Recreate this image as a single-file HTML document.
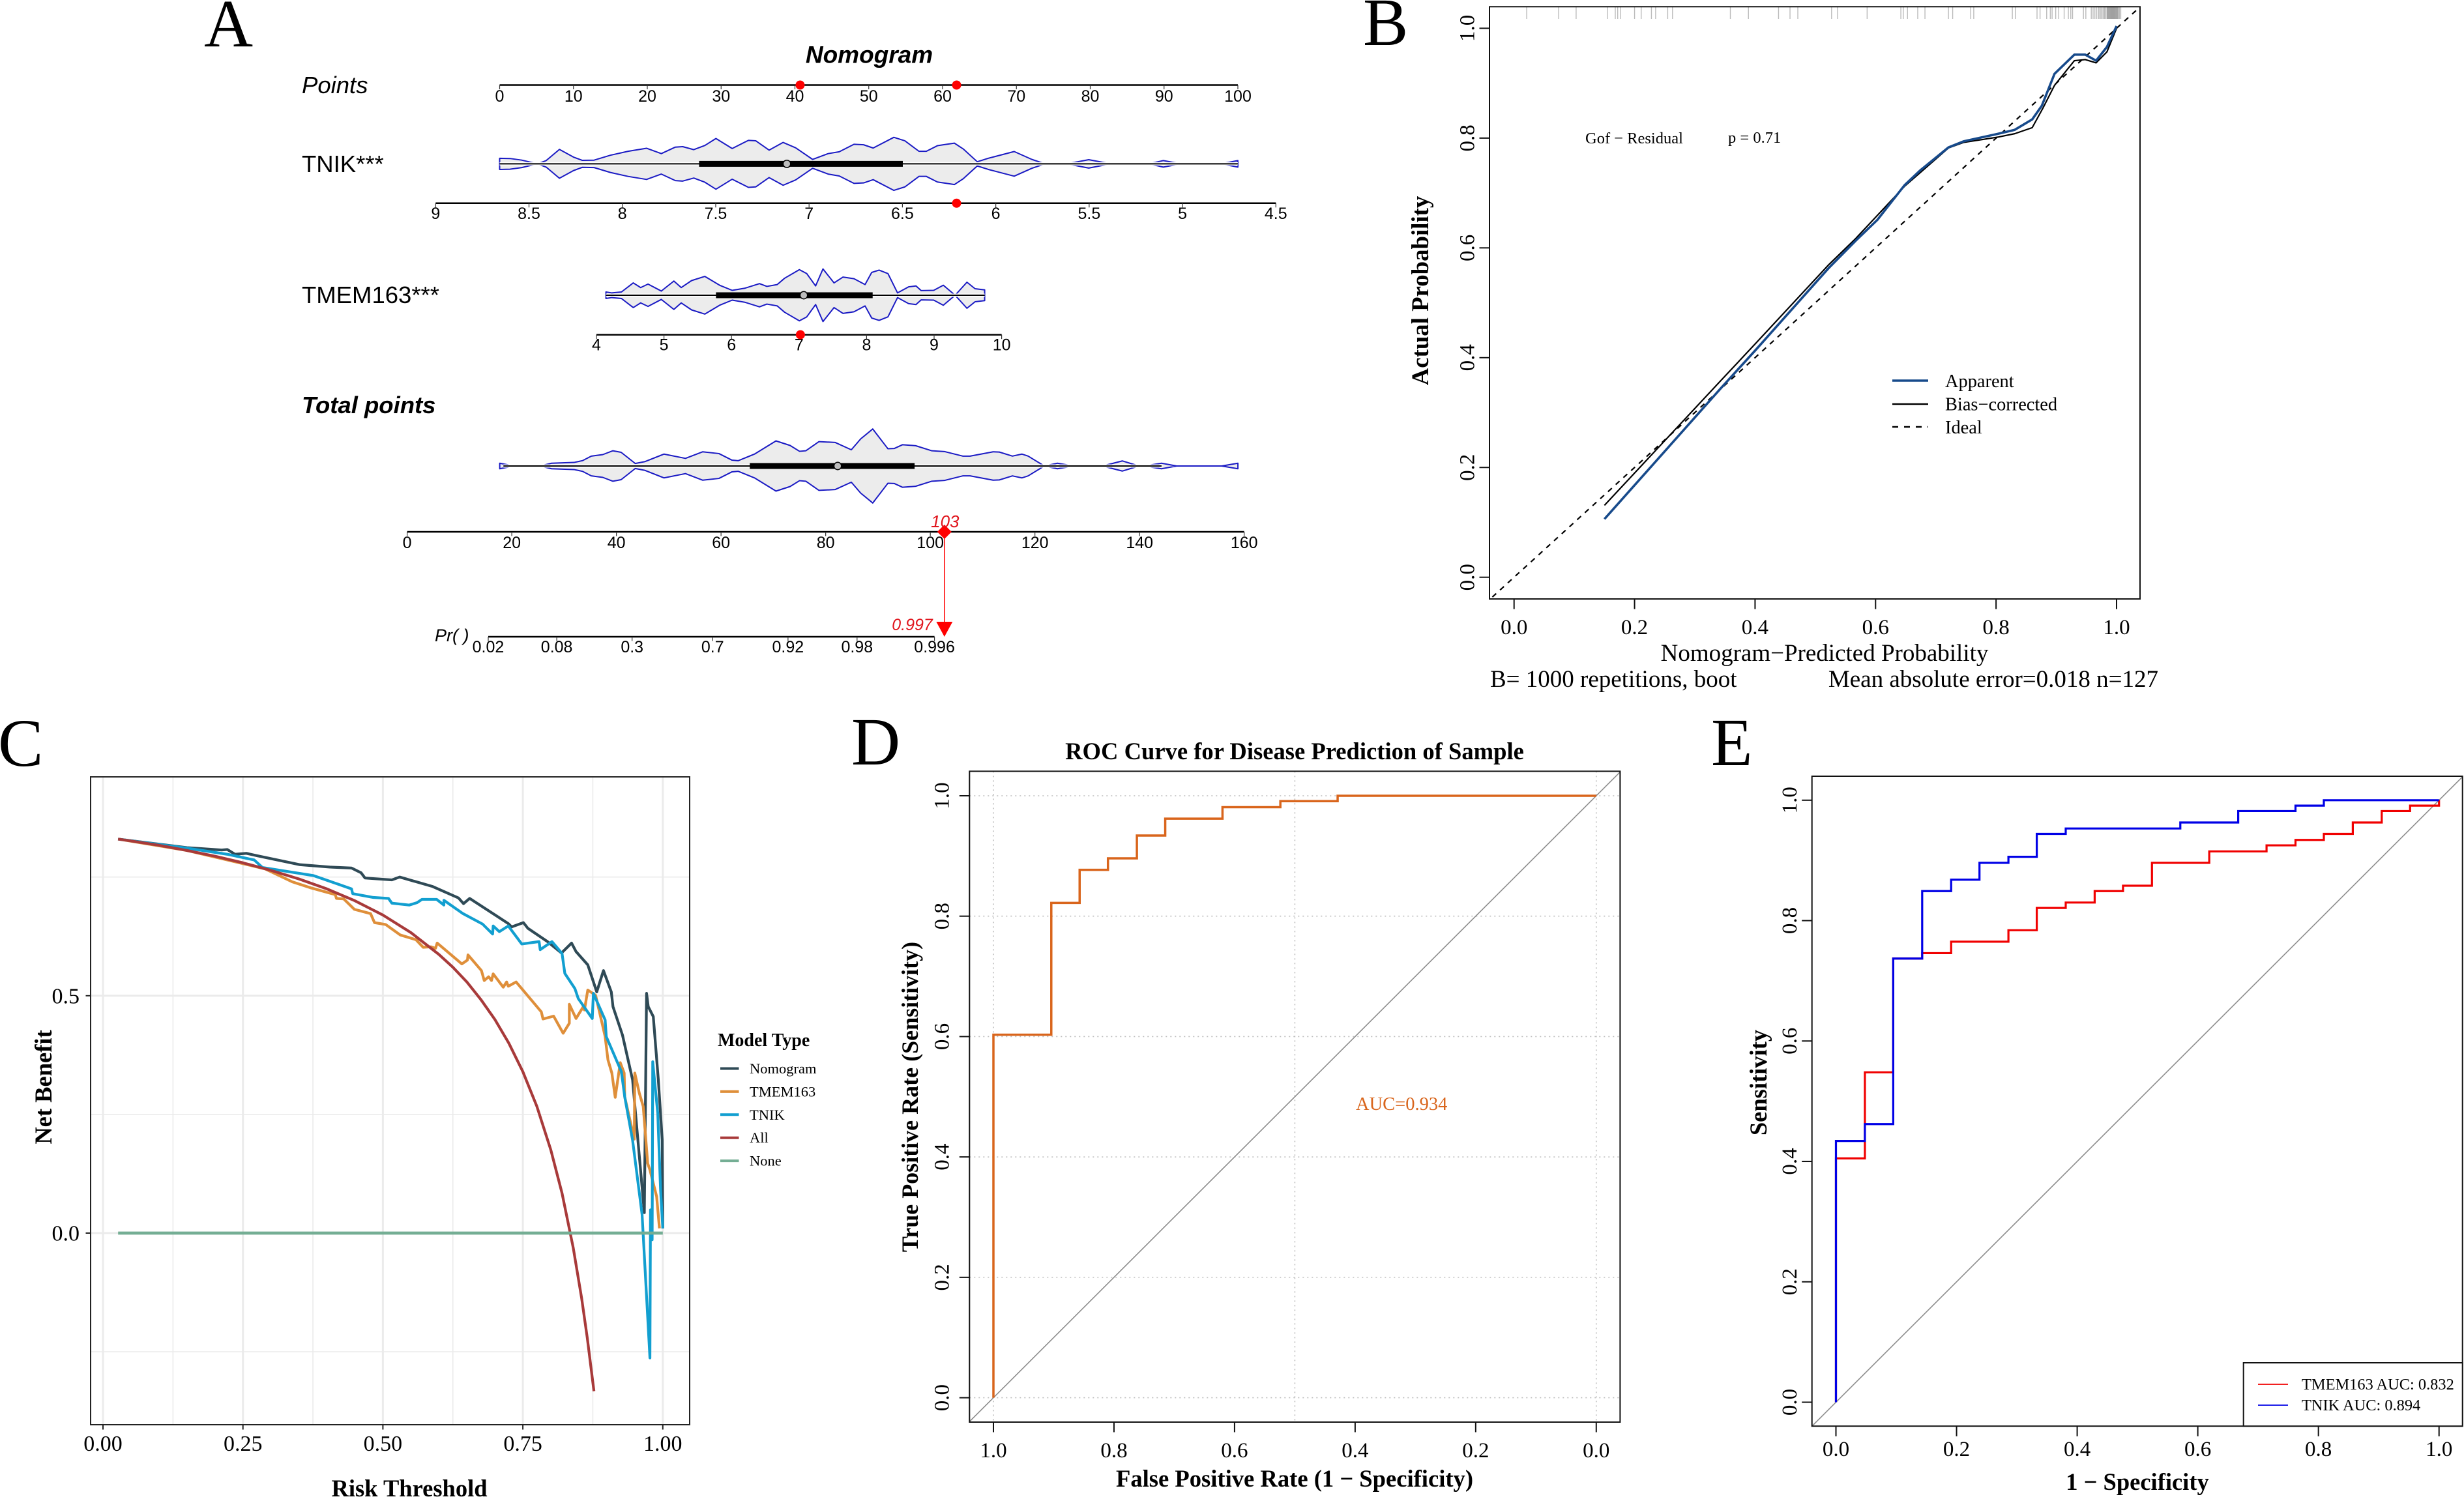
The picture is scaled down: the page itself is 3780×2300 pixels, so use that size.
<!DOCTYPE html>
<html lang="en">
<head>
<meta charset="utf-8">
<title>Nomogram, calibration, DCA and ROC panels</title>
<style>
html,body{margin:0;padding:0;background:#fff;}
svg{display:block;}
text{fill:#000;}
.sans{font-family:"Liberation Sans",Arial,sans-serif;}
.serif{font-family:"Liberation Serif","Times New Roman",serif;}
.bold{font-weight:bold;}
.ital{font-style:italic;}
</style>
</head>
<body>
<svg id="figure" xmlns="http://www.w3.org/2000/svg" width="3780" height="2300" viewBox="0 0 3780 2300">
<defs>
<clipPath id="clip-b"><rect x="2285" y="10.3" width="998" height="908.7"/></clipPath>
<clipPath id="clip-c"><rect x="139" y="1192" width="919" height="994"/></clipPath>
<clipPath id="clip-d"><rect x="1487.3" y="1183.4" width="998.1" height="998.6"/></clipPath>
<clipPath id="clip-e"><rect x="2779.7" y="1191" width="998" height="997.2"/></clipPath>
</defs>
<rect x="0" y="0" width="3780" height="2300" fill="#fff"/>

<g class="serif" font-size="104">
<text x="313" y="71">A</text>
<text x="2091" y="69">B</text>
<text x="-3" y="1175">C</text>
<text x="1306" y="1173">D</text>
<text x="2625" y="1174">E</text>
</g>

<g id="panel-a" class="sans">
<text class="bold ital" x="1333.5" y="96.5" font-size="37" text-anchor="middle">Nomogram</text>
<text class="ital" x="463" y="143" font-size="36.5">Points</text>
<text x="463" y="264" font-size="36.5">TNIK***</text>
<text x="463" y="465" font-size="36.5">TMEM163***</text>
<text class="bold ital" x="463" y="634" font-size="36.5">Total points</text>
<text class="ital" x="667" y="984" font-size="27">Pr( )</text>
</g>

<g id="panel-b" class="serif">
<text x="2799" y="1014" font-size="37" text-anchor="middle">Nomogram−Predicted Probability</text>
<text x="2286" y="1054" font-size="37">B= 1000 repetitions, boot</text>
<text x="3311" y="1054" font-size="37" text-anchor="end">Mean absolute error=0.018 n=127</text>
<text class="bold" transform="translate(2191 446) rotate(-90)" font-size="36.8" text-anchor="middle">Actual Probability</text>
<text x="2432" y="220" font-size="24.5">Gof − Residual</text>
<text x="2651" y="219" font-size="24.5">p = 0.71</text>
<line x1="2903" x2="2958" y1="584" y2="584" stroke="#174a8b" stroke-width="3.5"/>
<line x1="2903" x2="2958" y1="620" y2="620" stroke="#000" stroke-width="2.5"/>
<line x1="2903" x2="2958" y1="655" y2="655" stroke="#000" stroke-width="2.5" stroke-dasharray="9 9"/>
<text x="2984" y="594" font-size="28.4">Apparent</text>
<text x="2984" y="629.5" font-size="28.4">Bias−corrected</text>
<text x="2984" y="665" font-size="28.4">Ideal</text>
</g>

<g id="panel-c" class="serif">
<text class="bold" x="628" y="2296" font-size="36.5" text-anchor="middle">Risk Threshold</text>
<text class="bold" transform="translate(79 1668) rotate(-90)" font-size="36.5" text-anchor="middle">Net Benefit</text>
<text class="bold" x="1101" y="1605" font-size="28">Model Type</text>
</g>

<g id="panel-d" class="serif">
<text class="bold" x="1986" y="1165" font-size="36.6" text-anchor="middle">ROC Curve for Disease Prediction of Sample</text>
<text class="bold" x="1986" y="2281" font-size="36.6" text-anchor="middle">False Positive Rate (1 − Specificity)</text>
<text class="bold" transform="translate(1408 1683) rotate(-90)" font-size="36" text-anchor="middle">True Positive Rate (Sensitivity)</text>
<text x="2080" y="1703" font-size="28.5" style="fill:#d9651c">AUC=0.934</text>
</g>

<g id="panel-e" class="serif">
<text class="bold" x="3279" y="2286" font-size="36.5" text-anchor="middle">1 − Specificity</text>
<text class="bold" transform="translate(2710 1661) rotate(-90)" font-size="36.5" text-anchor="middle">Sensitivity</text>
</g>

<script>
// ---------- Panel A: nomogram data ----------
const pointsTicks = [0,10,20,30,40,50,60,70,80,90,100];
const tnikTicks = [9,8.5,8,7.5,7,6.5,6,5.5,5,4.5];
const tmemTicks = [4,5,6,7,8,9,10];
const totalTicks = [0,20,40,60,80,100,120,140,160];
const prTickLabels = ['0.02','0.08','0.3','0.7','0.92','0.98','0.996'];
const prTickTotals = [15.5,28.6,43,58.4,72.8,86,100.8];
const pointsMarkers = [40.7,61.9];
const tnikMarker = 6.21;
const tmemMarker = 7.02;
const totalMarker = 102.7;
const totalMarkerLabel = '103';
const prMarkerLabel = '0.997';

const tnikViolinPts = [0,1.4,3,5.1,6.3,8.1,10,11.2,12.8,15,17.4,19.9,21.9,23.8,24.8,26.3,27.8,29.3,31.5,33.7,34.7,36.5,38.4,40.1,42.4,44.5,46,48,49.3,50.6,53.4,54.9,56.8,57.8,59.3,61.6,62.8,64.7,66.2,69.7,72.1,73.9,76.8,79.8,82.8,87.9,89.9,92.3,97.7,100];
const tnikDensity = [.24,.23,.16,0,.14,.62,.29,.15,.16,.37,.54,.67,.44,.72,.74,.61,.79,1.09,.66,1.01,.99,.59,.92,.69,.19,.44,.52,.84,.82,.68,1.14,.99,.54,.54,.78,.89,.64,.09,.24,.53,.19,0,0,.18,0,0,.14,0,0,.14];
const tnikBox = [7.589,6.498];
const tnikMedian = 7.119;

const tmemViolinPts = [14.4,15.2,16.5,18.1,19.1,20.1,21.9,23.6,24.6,26,27.8,29.8,31.5,33.2,35.2,36.2,37.6,38.6,40.6,41.6,42.8,43.8,45.3,46.5,48,49.5,50.4,51.4,52.6,53.9,55.4,56.4,57.1,58.8,60.1,61.7,63.3,64.4,65.7];
const tmemDensity = [.14,.10,.14,.53,.33,.48,.18,.61,.33,.63,.81,.43,.21,.30,.50,.38,.46,.73,1.10,.93,.40,1.13,.53,.78,.71,.46,.98,1.08,.93,.10,.36,.40,.20,.21,.43,0,.56,.28,.23];
const tmemBox = [5.77,8.09];
const tmemMedian = 7.07;

const totalViolinPts = [17.7,20.4,25.4,27.6,31.9,33.5,35.2,37.4,39.3,40.9,43.6,45.4,49.1,53.2,56.5,59.6,62.1,63.3,66.4,70.5,73.2,75,76.2,78.7,81.8,84.9,86.7,89,91.9,93.1,94.7,97.2,100.3,102.7,106.2,107.6,112,113.2,115.7,117.5,118.7,121.8,124.3,127.4,132.9,136.7,139.9,140.9,144.2,147.1,155.7,158.8];
const totalDensity = [.11,0,0,.11,.14,.21,.39,.45,.60,.54,.10,.17,.47,.30,.56,.49,.23,.21,.47,.99,.81,.58,.60,.96,.93,.64,1.07,1.46,.68,.69,.84,.80,.60,.57,.39,.39,.56,.55,.39,.47,.39,0,.11,0,0,.20,0,0,.11,0,0,.11];
const totalBox = [65.5,97];
const totalMedian = 82.3;
const totalWhisker = [18.4,144.2];

// ---------- Panel B: calibration data ----------
const calTicks = [0,.2,.4,.6,.8,1];
const apparentX = [.15,.343,.401,.522,.567,.603,.648,.674,.721,.746,.804,.831,.86,.876,.897,.93,.948,.966,.984,1];
const apparentY = [.106,.344,.414,.563,.613,.651,.714,.741,.783,.794,.808,.815,.834,.859,.917,.952,.952,.941,.966,1.004];
const biasX = [.15,.343,.401,.522,.567,.648,.721,.746,.804,.831,.86,.878,.897,.93,.948,.966,.984,1];
const biasY = [.131,.358,.426,.569,.617,.712,.782,.792,.802,.808,.819,.855,.896,.941,.943,.937,.957,1];
const idealLine = [-.1,1.1];
const rugValues = [.021,.074,.103,.155,.168,.172,.177,.2,.211,.228,.235,.255,.263,.359,.389,.439,.458,.471,.527,.537,.586,.642,.646,.653,.67,.682,.721,.728,.758,.763,.827,.832,.868,.873,.884,.89,.893,.899,.904,.913,.92,.924,.927,.945,.949,.958,.961,.964,.967,.97,.972,.974,.976,.978,.98,.982,.984,.985,.986,.987,.988,.989,.99,.991,.992,.993,.994,.995,.996,.997,.998,.999,1,1.001,1.002,1.003,1.005,1.007];

// ---------- Panel C: decision curve data ----------
const dcaXTicks = [0,.25,.5,.75,1];
const dcaXMinor = [.125,.375,.625,.875];
const dcaYTicks = [0,.5];
const dcaYMinor = [-.25,.25,.75];
const dcaNames = ['Nomogram','TMEM163','TNIK','All','None'];
const nomogramX = [.027,.15,.212,.222,.236,.256,.275,.352,.405,.444,.461,.468,.516,.530,.589,.635,.644,.655,.724,.730,.751,.759,.794,.819,.837,.845,.866,.882,.894,.908,.911,.928,.946,.967,.971,.974,.983,.992,.999,1];
const nomogramY = [.83,.812,.807,.808,.798,.80,.795,.776,.771,.769,.759,.748,.744,.75,.73,.706,.694,.705,.652,.645,.654,.642,.614,.59,.611,.593,.565,.508,.553,.508,.477,.417,.323,.043,.505,.477,.456,.323,.196,.01];
const tmemX = [.027,.15,.222,.29,.338,.372,.415,.417,.43,.449,.478,.485,.505,.531,.559,.572,.586,.594,.597,.641,.651,.652,.676,.681,.689,.694,.697,.715,.721,.724,.738,.783,.786,.805,.822,.833,.833,.845,.858,.86,.866,.88,.897,.902,.909,.915,.924,.931,.932,.949,.95,.958,.965,.973,.977,.989,.994];
const tmemY = [.83,.806,.786,.767,.74,.727,.713,.705,.704,.682,.673,.654,.65,.628,.618,.602,.603,.60,.611,.567,.575,.586,.553,.532,.54,.532,.546,.518,.529,.52,.529,.466,.451,.457,.421,.442,.482,.452,.477,.47,.512,.501,.414,.365,.337,.286,.359,.337,.287,.198,.337,.295,.267,.147,.133,.077,.01];
const tnikX = [.027,.15,.222,.27,.285,.328,.376,.42,.444,.446,.483,.51,.516,.547,.561,.57,.596,.609,.609,.643,.678,.696,.697,.708,.724,.748,.779,.781,.802,.82,.825,.843,.849,.874,.876,.897,.899,.926,.932,.946,.963,.977,.978,.981,.982,.991,.996,1];
const tnikY = [.83,.811,.798,.786,.77,.762,.753,.735,.725,.715,.707,.705,.695,.691,.696,.703,.703,.691,.701,.673,.651,.63,.647,.635,.647,.609,.614,.597,.614,.589,.547,.515,.494,.452,.505,.449,.414,.34,.287,.196,.039,-.263,.049,-.014,.361,.252,.091,.01];
const allX = [.027,.05,.1,.15,.2,.25,.3,.35,.4,.45,.5,.55,.6,.625,.65,.675,.7,.725,.75,.775,.8,.82,.84,.855,.865,.877];
const allY = [.83,.826,.817,.806,.794,.78,.764,.746,.725,.70,.67,.633,.587,.56,.529,.492,.45,.40,.34,.267,.175,.084,-.031,-.137,-.22,-.333];
const noneX = [.027,1];
const noneY = [0,0];

// ---------- Panel D / E: ROC data ----------
const rocTicks = [0,.2,.4,.6,.8,1];
const sampleGridX = [1,.5,0];
const sampleX = [1,.904,.857,.81,.762,.715,.62,.524,.429,0];
const sampleY = [.603,.822,.877,.896,.934,.962,.981,.991,1,1];
const tmemRocX = [0,.048,.095,.143,.191,.286,.333,.381,.429,.476,.524,.619,.714,.762,.809,.857,.905,.952,1];
const tmemRocY = [.405,.548,.737,.746,.765,.784,.821,.83,.849,.858,.896,.915,.925,.934,.944,.963,.982,.991,1];
const tnikRocX = [0,.048,.095,.143,.191,.238,.286,.333,.381,.571,.667,.762,.809,1];
const tnikRocY = [.434,.462,.737,.849,.868,.896,.906,.944,.953,.963,.982,.991,1,1];
const rocLegendLabels = ['TMEM163 AUC: 0.832','TNIK AUC: 0.894'];

// ---------- Helpers ----------
const SVGNS = 'http://www.w3.org/2000/svg';
function mk(parent, tag, attrs, text) {
  const el = document.createElementNS(SVGNS, tag);
  for (const k in attrs) el.setAttribute(k, attrs[k]);
  if (text !== undefined) el.textContent = text;
  parent.appendChild(el);
  return el;
}
function linear(d0, d1, r0, r1) {
  return function (v) { return r0 + (v - d0) / (d1 - d0) * (r1 - r0); };
}
function polyPoints(xs, ys, sx, sy) {
  return xs.map(function (x, i) { return sx(x).toFixed(2) + ',' + sy(ys[i]).toFixed(2); }).join(' ');
}
function stepPath(xs, ys, sx, sy) {
  let d = 'M' + sx(xs[0]).toFixed(2) + ' ' + sy(0).toFixed(2);
  for (let i = 0; i < xs.length; i++) {
    d += ' V' + sy(ys[i]).toFixed(2);
    if (i + 1 < xs.length) d += ' H' + sx(xs[i + 1]).toFixed(2);
  }
  return d;
}
const byId = function (id) { return document.getElementById(id); };

// ---------- Panel A ----------
const pA = byId('panel-a');
const sPoints = linear(0, 100, 766.5, 1899);
const sTnik = linear(9, 4.5, 668.3, 1957.3);
const sTmem = linear(4, 10, 915, 1536.6);
const sTotal = linear(0, 160, 624.6, 1908.7);

function nomoAxis(ticks, labels, scale, y, labelY) {
  const axis = mk(pA, 'line', {x1: scale(ticks[0]), x2: scale(ticks[ticks.length - 1]), y1: y, y2: y, stroke: '#000', 'stroke-width': 2.5});
  
  
  ticks.forEach(function (t, i) {
    const tick = mk(pA, 'line', {x1: scale(t), x2: scale(t), y1: y, y2: y + 6.5, stroke: '#333', 'stroke-width': 1.2});
    
    
    const lab = mk(pA, 'text', {x: scale(t), y: labelY, 'font-size': 25, 'text-anchor': 'middle'}, labels[i]);
    
    
  });
}
function violin(xs, dens, scale, cy, unit, lineFrom, lineTo, boxFrom, boxTo, med) {
  const up = xs.map(function (x, i) { return scale(x).toFixed(2) + ',' + (cy - dens[i] * unit).toFixed(2); });
  const down = xs.map(function (x, i) { return scale(x).toFixed(2) + ',' + (cy + dens[i] * unit).toFixed(2); }).reverse();
  const shape = mk(pA, 'polygon', {points: up.concat(down).join(' '), fill: '#ececec', stroke: '#1a1ac4', 'stroke-width': 2, 'stroke-linejoin': 'round'});
  
  
  const halo = mk(pA, 'line', {x1: lineFrom, x2: lineTo, y1: cy, y2: cy, stroke: '#fff', 'stroke-width': 5});
  
  
  const whisker = mk(pA, 'line', {x1: lineFrom, x2: lineTo, y1: cy, y2: cy, stroke: '#000', 'stroke-width': 2});
  
  
  const box = mk(pA, 'rect', {x: Math.min(boxFrom, boxTo), y: cy - 4.5, width: Math.abs(boxTo - boxFrom), height: 9, fill: '#000'});
  
  
  const medDot = mk(pA, 'circle', {cx: med, cy: cy, r: 5.7, fill: '#bdbdbd', stroke: '#000', 'stroke-width': 1.5});
  
  
}
function redDot(x, y) {
  const dot = mk(pA, 'circle', {cx: x, cy: y, r: 7, fill: '#f00'});
  
  
}

nomoAxis(pointsTicks, pointsTicks.map(String), sPoints, 130.5, 156);
nomoAxis(tnikTicks, tnikTicks.map(String), sTnik, 311.8, 336);
nomoAxis(tmemTicks, tmemTicks.map(String), sTmem, 513.6, 537.5);
nomoAxis(totalTicks, totalTicks.map(String), sTotal, 816, 841);
nomoAxis(prTickTotals, prTickLabels, sTotal, 977, 1001);

violin(tnikViolinPts, tnikDensity, sPoints, 251.4, 35.7, sPoints(0), sPoints(100), sTnik(tnikBox[0]), sTnik(tnikBox[1]), sTnik(tnikMedian));
violin(tmemViolinPts, tmemDensity, sPoints, 453, 35.7, sPoints(14.4), sPoints(65.7), sTmem(tmemBox[0]), sTmem(tmemBox[1]), sTmem(tmemMedian));
violin(totalViolinPts, totalDensity, sTotal, 715, 38.9, sTotal(totalWhisker[0]), sTotal(totalWhisker[1]), sTotal(totalBox[0]), sTotal(totalBox[1]), sTotal(totalMedian));

pointsMarkers.forEach(function (p) { redDot(sPoints(p), 130.5); });
redDot(sTnik(tnikMarker), 311.8);
redDot(sTmem(tmemMarker), 513.6);

const mx = sTotal(totalMarker);
const drop = mk(pA, 'line', {x1: mx, x2: mx, y1: 816, y2: 962, stroke: '#f00', 'stroke-width': 1.5});


const diamond = mk(pA, 'polygon', {points: [mx, 805, mx + 11, 816, mx, 827, mx - 11, 816].join(' '), fill: '#f00'});


const arrow = mk(pA, 'polygon', {points: [mx - 12.5, 954, mx + 12.5, 954, mx, 977].join(' '), fill: '#f00'});


const tm = mk(pA, 'text', {x: mx + 1, y: 809, 'font-size': 26, 'text-anchor': 'middle', 'font-style': 'italic', style: 'fill:#e0141c'}, totalMarkerLabel);


const pm = mk(pA, 'text', {x: mx - 18, y: 967, 'font-size': 25, 'text-anchor': 'end', 'font-style': 'italic', style: 'fill:#e0141c'}, prMarkerLabel);



// ---------- Shared base-R style axes ----------
function baseAxes(parent, frame, sx, sy, xTicks, yTicks, xBase, yBase, fs) {
  xTicks.forEach(function (t) {
    const tick = mk(parent, 'line', {x1: sx(t), x2: sx(t), y1: frame.b, y2: frame.b + 15.5, stroke: '#111', 'stroke-width': 2});
    
    
    const lab = mk(parent, 'text', {x: sx(t), y: xBase, 'font-size': fs, 'text-anchor': 'middle'}, t.toFixed(1));
    
    
  });
  yTicks.forEach(function (t) {
    const tick = mk(parent, 'line', {x1: frame.l - 15.5, x2: frame.l, y1: sy(t), y2: sy(t), stroke: '#111', 'stroke-width': 2});
    
    
    const lab = mk(parent, 'text', {transform: 'translate(' + yBase + ' ' + sy(t) + ') rotate(-90)', 'font-size': fs, 'text-anchor': 'middle'}, t.toFixed(1));
    
    
  });
}
function frameRect(parent, f, stroke) {
  const r = mk(parent, 'rect', {x: f.l, y: f.t, width: f.r - f.l, height: f.b - f.t, fill: 'none', stroke: stroke, 'stroke-width': 2});
  
  
}

// ---------- Panel B ----------
const pB = byId('panel-b');
const fB = {l: 2285, r: 3283, t: 10.3, b: 919};
const bx = linear(0, 1, 2322.7, 3247);
const by = linear(0, 1, 885.7, 43.4);
const rugG = mk(pB, 'g', {'clip-path': 'url(#clip-b)'});


rugValues.forEach(function (v) {
  const r = mk(rugG, 'line', {x1: bx(v), x2: bx(v), y1: 11, y2: 29, stroke: 'rgba(30,30,30,.3)', 'stroke-width': 1.4});
  
  
});
const ideal = mk(pB, 'line', {x1: bx(idealLine[0]), y1: by(idealLine[0]), x2: bx(idealLine[1]), y2: by(idealLine[1]), stroke: '#000', 'stroke-width': 2.2, 'stroke-dasharray': '8 8', 'clip-path': 'url(#clip-b)'});


const biasLine = mk(pB, 'polyline', {points: polyPoints(biasX, biasY, bx, by), fill: 'none', stroke: '#000', 'stroke-width': 2.2, 'stroke-linejoin': 'round'});


const appLine = mk(pB, 'polyline', {points: polyPoints(apparentX, apparentY, bx, by), fill: 'none', stroke: '#174a8b', 'stroke-width': 3.6, 'stroke-linejoin': 'round'});


baseAxes(pB, fB, bx, by, calTicks, calTicks, 973, 2261.5, 33);
frameRect(pB, fB, '#111');

// ---------- Panel C ----------
const pC = byId('panel-c');
const fC = {l: 139, r: 1058, t: 1192, b: 2186};
const cx = linear(0, 1, 158, 1016.8);
const cy = linear(0, 1, 1892, 1163.6);
function gridV(v, w) {
  const g = mk(pC, 'line', {x1: cx(v), x2: cx(v), y1: fC.t, y2: fC.b, stroke: '#ebebeb', 'stroke-width': w});
  
  
}
function gridH(v, w) {
  const g = mk(pC, 'line', {x1: fC.l, x2: fC.r, y1: cy(v), y2: cy(v), stroke: '#ebebeb', 'stroke-width': w});
  
  
}
dcaXMinor.forEach(function (v) { gridV(v, 1.6); });
dcaYMinor.forEach(function (v) { gridH(v, 1.6); });
dcaXTicks.forEach(function (v) { gridV(v, 3); });
dcaYTicks.forEach(function (v) { gridH(v, 3); });
const dcaColors = ['#2f4a56', '#df8f3a', '#129fd0', '#a83a3a', '#74ae94'];
const dcaXData = [nomogramX, tmemX, tnikX, allX, noneX];
const dcaYData = [nomogramY, tmemY, tnikY, allY, noneY];
dcaNames.forEach(function (name, i) {
  const l = mk(pC, 'polyline', {points: polyPoints(dcaXData[i], dcaYData[i], cx, cy), fill: 'none', stroke: dcaColors[i], 'stroke-width': i === 4 ? 4.8 : 4.2, 'stroke-linejoin': 'round', 'clip-path': 'url(#clip-c)'});
  
  
  const ky = 1639.5 + i * 35.4;
  const k = mk(pC, 'line', {x1: 1105, x2: 1133.5, y1: ky, y2: ky, stroke: dcaColors[i], 'stroke-width': 4});
  
  
  const t = mk(pC, 'text', {x: 1150, y: ky + 7.5, 'font-size': 22.5}, name);
  
  
});
dcaXTicks.forEach(function (t) {
  const tick = mk(pC, 'line', {x1: cx(t), x2: cx(t), y1: fC.b, y2: fC.b + 7.5, stroke: '#222', 'stroke-width': 2});
  
  
  const lab = mk(pC, 'text', {x: cx(t), y: 2226, 'font-size': 34, 'text-anchor': 'middle'}, t.toFixed(2));
  
  
});
dcaYTicks.forEach(function (t) {
  const tick = mk(pC, 'line', {x1: fC.l - 7.5, x2: fC.l, y1: cy(t), y2: cy(t), stroke: '#222', 'stroke-width': 2});
  
  
  const lab = mk(pC, 'text', {x: 122, y: cy(t) + 11.5, 'font-size': 34, 'text-anchor': 'end'}, t.toFixed(1));
  
  
});
frameRect(pC, fC, '#222');

// ---------- Panel D ----------
const pD = byId('panel-d');
const fD = {l: 1487.3, r: 2485.4, t: 1183.4, b: 2182};
const dx = linear(1, 0, 1524, 2448.8);
const dy = linear(0, 1, 2144.6, 1221);
sampleGridX.forEach(function (v) {
  const g = mk(pD, 'line', {x1: dx(v), x2: dx(v), y1: fD.t, y2: fD.b, stroke: '#bdbdbd', 'stroke-width': 1.6, 'stroke-dasharray': '2 5'});
  
  
});
rocTicks.forEach(function (v) {
  const g = mk(pD, 'line', {x1: fD.l, x2: fD.r, y1: dy(v), y2: dy(v), stroke: '#bdbdbd', 'stroke-width': 1.6, 'stroke-dasharray': '2 5'});
  
  
});
const diagD = mk(pD, 'line', {x1: dx(1.1), y1: dy(-.1), x2: dx(-.1), y2: dy(1.1), stroke: '#8c8c8c', 'stroke-width': 1.6, 'clip-path': 'url(#clip-d)'});


const curveD = mk(pD, 'path', {d: stepPath(sampleX, sampleY, dx, dy), fill: 'none', stroke: '#d9651c', 'stroke-width': 3.5, 'stroke-linejoin': 'miter'});


baseAxes(pD, fD, dx, dy, rocTicks.slice().reverse(), rocTicks, 2236, 1455.5, 33);
frameRect(pD, fD, '#111');

// ---------- Panel E ----------
const pE = byId('panel-e');
const fE = {l: 2779.7, r: 3777.7, t: 1191, b: 2188.2};
const ex = linear(0, 1, 2816.5, 3741.7);
const ey = linear(0, 1, 2151.5, 1227.8);
const diagE = mk(pE, 'line', {x1: ex(-.1), y1: ey(-.1), x2: ex(1.1), y2: ey(1.1), stroke: '#8c8c8c', 'stroke-width': 1.6, 'clip-path': 'url(#clip-e)'});


const curveTmem = mk(pE, 'path', {d: stepPath(tmemRocX, tmemRocY, ex, ey), fill: 'none', stroke: '#f00000', 'stroke-width': 3.2});


const curveTnik = mk(pE, 'path', {d: stepPath(tnikRocX, tnikRocY, ex, ey), fill: 'none', stroke: '#0000e6', 'stroke-width': 3.2});


baseAxes(pE, fE, ex, ey, rocTicks, rocTicks, 2234, 2756, 33);
frameRect(pE, fE, '#111');
const legE = mk(pE, 'rect', {x: 3441.7, y: 2091, width: 336, height: 97.2, fill: '#fff', stroke: '#111', 'stroke-width': 2});


const rocColors = ['#f00000', '#0000e6'];
rocLegendLabels.forEach(function (label, i) {
  const ky = 2124 + i * 32;
  const k = mk(pE, 'line', {x1: 3464, x2: 3510, y1: ky, y2: ky, stroke: rocColors[i], 'stroke-width': 1.8});
  
  
  const t = mk(pE, 'text', {x: 3531, y: ky + 8, 'font-size': 24.4}, label);
  
  
});
</script>
</svg>
</body>
</html>
